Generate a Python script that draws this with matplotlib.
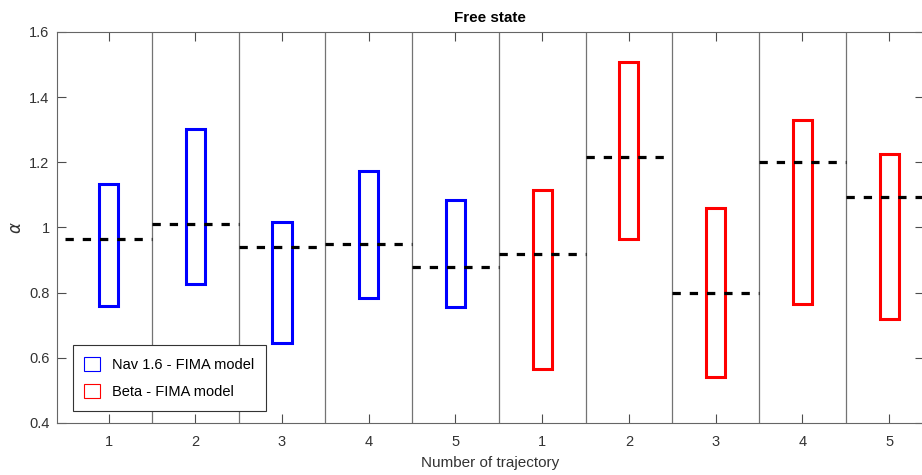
import numpy as np
import matplotlib
matplotlib.use("Agg")
import matplotlib.pyplot as plt
from matplotlib.patches import Patch

plt.rcParams['font.family'] = ['Liberation Sans', 'DejaVu Sans']

# trajectory labels (5 Nav 1.6, then 5 Beta)
tick_labels = ['1', '2', '3', '4', '5', '1', '2', '3', '4', '5']
# confidence interval bounds for alpha
lower = [0.760, 0.826, 0.645, 0.783, 0.757, 0.566, 0.964, 0.540, 0.764, 0.719]
upper = [1.132, 1.302, 1.017, 1.174, 1.083, 1.114, 1.508, 1.061, 1.329, 1.224]
# point estimates (dashed lines)
estimate = [0.964, 1.011, 0.940, 0.950, 0.880, 0.920, 1.217, 0.799, 1.200, 1.092]
groups = ['Nav 1.6 - FIMA model'] * 5 + ['Beta - FIMA model'] * 5
group_colors = {'Nav 1.6 - FIMA model': '#0000FF', 'Beta - FIMA model': '#FF0000'}

fig = plt.figure(figsize=(9.22, 4.75), dpi=100)
ax = fig.add_axes([0.0613, 0.1095, 0.9406, 0.8232])

pos = np.arange(1, len(tick_labels) + 1)
colors = [group_colors[g] for g in groups]

# vertical separators between trajectories
for p in pos[:-1]:
    ax.axvline(p + 0.5, color='0.45', lw=0.9, zorder=1)

ax.bar(pos, np.array(upper) - np.array(lower), bottom=lower, width=0.22,
       fill=False, edgecolor=colors, linewidth=2.2, zorder=3)

for p, e in zip(pos, estimate):
    ax.plot([p - 0.5, p + 0.5], [e, e], color='black', lw=2.3,
            dashes=(2.6, 2.8), zorder=4)

ax.set_xlim(0.4, 10.4)
ax.set_ylim(0.4, 1.6)
ax.set_xticks(pos)
ax.set_xticklabels(tick_labels)
ax.set_yticks(np.arange(0.4, 1.61, 0.2))
ax.set_yticklabels(['0.4', '0.6', '0.8', '1', '1.2', '1.4', '1.6'])
ax.tick_params(direction='in', length=6.5, width=0.8, colors='0.3',
               labelcolor='0.2', labelsize=10.5, top=True, right=True)
ax.tick_params(axis='x', pad=9)
ax.tick_params(axis='y', pad=5)
for s in ax.spines.values():
    s.set_color('0.4')
    s.set_linewidth(0.8)

ax.set_title('Free state', fontsize=11, fontweight='bold', pad=7)
ax.set_xlabel('Number of trajectory', fontsize=11, color='0.2', labelpad=5)
ax.set_ylabel(r'$\alpha$', fontsize=12, color='0.2', labelpad=4)

handles = [Patch(facecolor='none', edgecolor=group_colors[g], lw=0.8, label=g)
           for g in ['Nav 1.6 - FIMA model', 'Beta - FIMA model']]
leg = ax.legend(handles=handles, loc='lower left', bbox_to_anchor=(0.0187, 0.0315),
                borderaxespad=0, fancybox=False, framealpha=1, edgecolor='0.2',
                fontsize=10.5, handlelength=1.1, handleheight=1.1,
                borderpad=0.8, labelspacing=0.85, handletextpad=0.8)
leg.get_frame().set_linewidth(0.8)

fig.savefig('out.png', dpi=100)
